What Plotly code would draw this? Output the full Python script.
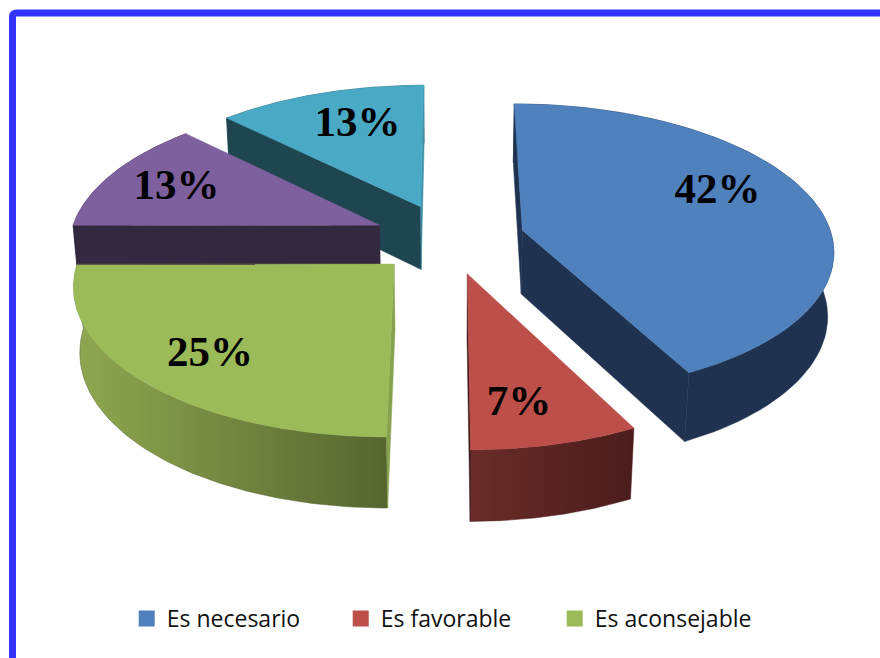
import numpy as np
import plotly.graph_objects as go

categories = ["Es necesario", "Es favorable", "Es aconsejable", "Serie 4", "Serie 5"]
values = [42.49, 7.49, 25, 12.51, 12.51]
labels = ["42%", "7%", "25%", "13%", "13%"]
legend_names = ["Es necesario", "Es favorable", "Es aconsejable"]

top_colors = ["#4f81bd", "#bd4f4b", "#9bbb59", "#7f609e", "#4aa9c5"]
arc_grad = [("#1f3350", "#1f3350"), ("#6a2c29", "#4a1d1c"), ("#8fa850", "#566530"),
            ("#32283f", "#32283f"), ("#1f4650", "#1f4650")]
# None = wall faces away from the viewer
start_wall_colors = ["#1f3350", None, "#86a24e", "#32283f", "#1f4650"]
end_wall_colors = ["#1f3350", "#3a1716", None, None, "#3d8ea5"]
draw_order = [4, 3, 0, 2, 1]
# label placement: fraction of slice sweep, fraction of radius
label_frac = [0.44, 0.62, 0.48, 0.48, 0.56]
label_rad = [0.72, 0.78, 0.77, 0.745, 0.69]

CX, CY, R, EXPLODE, K, D, H, DZ = 449, 238.5, 310, 76, 0.465, 2470, 65, 40


def project(X, Y, z=0.0):
    X, Y = np.asarray(X, float), np.asarray(Y, float)
    P = D / (D + Y + z * DZ)
    return CX + X * P, CY - Y * K * P + z * H * P


fig = go.Figure()
ang = np.cumsum([0] + values) / sum(values) * 2 * np.pi


def poly(x, y, color=None, grad=None):
    x = list(x) + [x[0]]
    y = list(y) + [y[0]]
    kw = dict(fillcolor=color) if grad is None else dict(
        fillgradient=dict(type="horizontal", colorscale=[[0, grad[0]], [1, grad[1]]]))
    fig.add_trace(go.Scatter(x=x, y=y, mode="lines", fill="toself", line=dict(width=0.5, color=color or grad[1]),
                             showlegend=False, hoverinfo="skip", **kw))


text_x, text_y = [], []
for i in draw_order:
    a0, a1 = ang[i], ang[i + 1]
    mid = (a0 + a1) / 2
    ox, oy = EXPLODE * np.sin(mid), EXPLODE * np.cos(mid)
    th = np.linspace(a0, a1, 80)
    ax, ay = ox + R * np.sin(th), oy + R * np.cos(th)
    x0, y0 = project(ax, ay, 0)
    x1, y1 = project(ax, ay, 1)
    # outer wall
    poly(np.r_[x0, x1[::-1]], np.r_[y0, y1[::-1]], grad=arc_grad[i])
    # radial walls
    for a, col in ((a0, start_wall_colors[i]), (a1, end_wall_colors[i])):
        if col is None:
            continue
        ex, ey = ox + R * np.sin(a), oy + R * np.cos(a)
        xa, ya = project([ox, ex], [oy, ey], 0)
        xb, yb = project([ox, ex], [oy, ey], 1)
        poly([xa[0], xa[1], xb[1], xb[0]], [ya[0], ya[1], yb[1], yb[0]], color=col)
    # top
    poly(np.r_[project(ox, oy)[0], x0], np.r_[project(ox, oy)[1], y0], color=top_colors[i])

for i in range(len(values)):
    a = ang[i] + label_frac[i] * (ang[i + 1] - ang[i])
    mid = (ang[i] + ang[i + 1]) / 2
    tx, ty = project(EXPLODE * np.sin(mid) + label_rad[i] * R * np.sin(a),
                     EXPLODE * np.cos(mid) + label_rad[i] * R * np.cos(a))
    text_x.append(float(tx))
    text_y.append(float(ty))

fig.add_trace(go.Scatter(x=text_x, y=text_y, mode="text", text=labels, showlegend=False, hoverinfo="skip",
                         textposition="middle center",
                         textfont=dict(family="Liberation Serif", size=43, color="#000000", weight="bold")))

for n, c in zip(legend_names, top_colors):
    fig.add_trace(go.Scatter(x=[None], y=[None], mode="markers", name=n,
                             marker=dict(symbol="square", size=16, color=c)))

fig.update_layout(
    width=880, height=658, margin=dict(l=0, r=0, t=0, b=0),
    paper_bgcolor="white", plot_bgcolor="white",
    xaxis=dict(range=[0, 880], visible=False, fixedrange=True),
    yaxis=dict(range=[658, 0], visible=False, fixedrange=True),
    legend=dict(orientation="h", x=0.144, xanchor="left", y=0.06, yanchor="middle",
                entrywidth=169, entrywidthmode="pixels",
                font=dict(family="Open Sans", size=23, color="#111111"), itemsizing="trace", traceorder="normal"),
    shapes=[dict(type="path", xref="x", yref="y",
                 path="M 12.5 658 L 12.5 17 Q 12.5 13 17 13 L 880 13",
                 line=dict(color="#3333ff", width=7))],
)
fig.write_html("out.html", config={"displayModeBar": False},
               post_script="document.body.style.margin='0';")
